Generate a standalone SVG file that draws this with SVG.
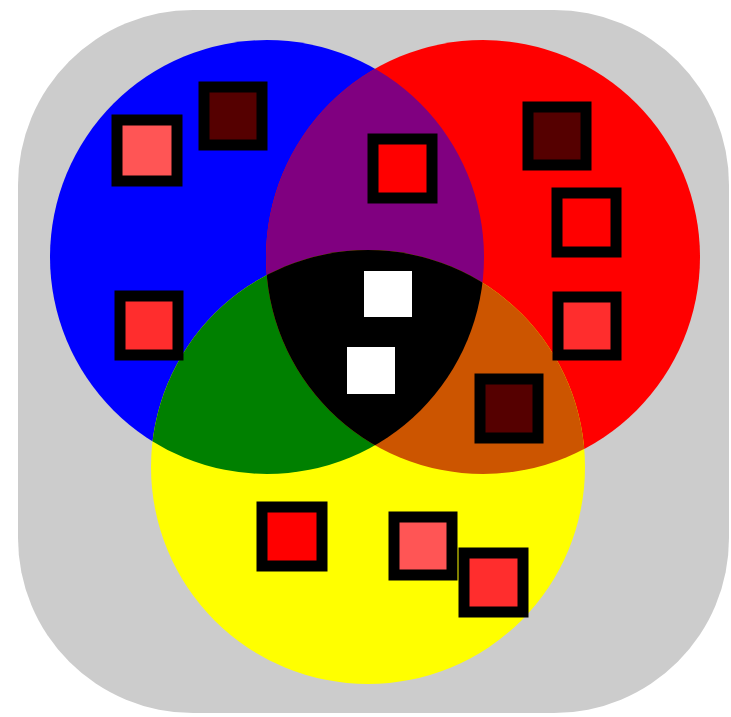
<svg xmlns="http://www.w3.org/2000/svg" width="731" height="717" viewBox="0 0 731 717">
<style>
.sq{stroke:#000;stroke-width:11}
.c1{fill:#ff5555}.c2{fill:#550000}.c3{fill:#ff2d2d}.c4{fill:#ff0000}
.w{fill:#fff}
</style>
<defs>
<clipPath id="clipR"><circle cx="483" cy="257" r="217"/></clipPath>
<clipPath id="clipY"><circle cx="368" cy="467" r="217"/></clipPath>
</defs>
<rect id="background" x="18" y="10" width="711" height="703" rx="175" ry="175" fill="#cccccc"/>
<g id="sets">
<circle id="blue" cx="267" cy="257" r="217" fill="#0000ff"/>
<circle id="red" cx="483" cy="257" r="217" fill="#ff0000"/>
<circle id="yellow" cx="368" cy="467" r="217" fill="#ffff00"/>
<circle id="blue-red" cx="267" cy="257" r="217" fill="#800080" clip-path="url(#clipR)"/>
<circle id="blue-yellow" cx="267" cy="257" r="217" fill="#008000" clip-path="url(#clipY)"/>
<circle id="red-yellow" cx="483" cy="257" r="217" fill="#cc5500" clip-path="url(#clipY)"/>
<g clip-path="url(#clipY)"><circle id="all" cx="267" cy="257" r="217" fill="#000" clip-path="url(#clipR)"/></g>
</g>
<g id="items">
<rect class="sq c1" x="117" y="120" width="60" height="61"/>
<rect class="sq c2" x="204" y="87" width="58" height="58"/>
<rect class="sq c3" x="120" y="296" width="58" height="59"/>
<rect class="sq c4" x="373" y="139" width="59" height="59"/>
<rect class="sq c2" x="528" y="107" width="58" height="58"/>
<rect class="sq c4" x="557" y="193" width="59" height="59"/>
<rect class="sq c3" x="558" y="297" width="58" height="58"/>
<rect class="sq c2" x="480" y="379" width="58" height="59"/>
<rect class="sq c4" x="262" y="507" width="60" height="59"/>
<rect class="sq c1" x="394" y="517" width="58" height="58"/>
<rect class="sq c3" x="464" y="553" width="59" height="59"/>
<rect class="w" x="364" y="271" width="48" height="46"/>
<rect class="w" x="347" y="347" width="48" height="47"/>
</g>
</svg>
